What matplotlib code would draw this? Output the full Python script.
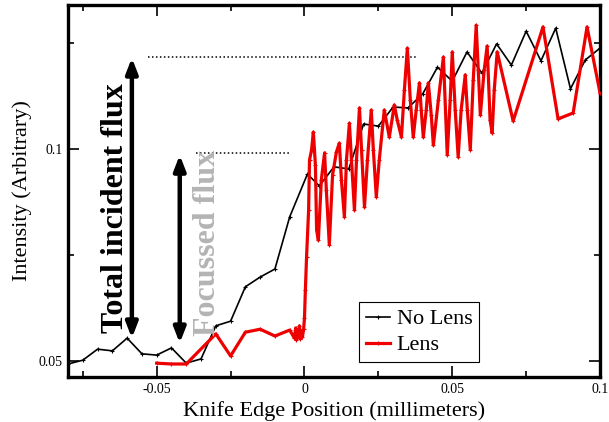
import matplotlib
matplotlib.use("Agg")
import matplotlib.pyplot as plt
from matplotlib.ticker import FixedLocator, NullFormatter

# ---- data ----
nolens_x = [-0.080, -0.075, -0.070, -0.065, -0.060, -0.055, -0.050, -0.045, -0.040,
            -0.035, -0.030, -0.025, -0.020, -0.015, -0.010, -0.005, 0.001, 0.005,
            0.010, 0.015, 0.020, 0.025, 0.030, 0.035, 0.040, 0.045, 0.050, 0.055,
            0.060, 0.065, 0.070, 0.075, 0.080, 0.085, 0.090, 0.095, 0.100]
nolens_y = [0.0493, 0.0502, 0.0528, 0.0524, 0.0554, 0.0517, 0.0514, 0.0531, 0.0495,
            0.0505, 0.0583, 0.0594, 0.0675, 0.0698, 0.0717, 0.0840, 0.0941, 0.0913,
            0.0958, 0.0953, 0.1059, 0.1054, 0.1099, 0.1097, 0.1130, 0.1193, 0.1160,
            0.1229, 0.1179, 0.1248, 0.1198, 0.1278, 0.1208, 0.1285, 0.1142, 0.1210,
            0.1238]

lens_x = [-0.050, -0.045, -0.040, -0.030, -0.025, -0.020, -0.015, -0.010, -0.005,
          -0.0034, -0.0030, -0.0027, -0.0024, -0.0020, -0.0017, -0.0014, -0.0010,
          -0.0007, -0.0003, 0.0000, 0.0003, 0.0007, 0.0014, 0.0017, 0.0024,
          0.0030, 0.0037, 0.0041, 0.0047, 0.0057, 0.0068, 0.0074, 0.0084, 0.0095,
          0.0108, 0.0118, 0.0125, 0.0135, 0.0142, 0.0152, 0.0159, 0.0169, 0.0176,
          0.0186, 0.0193, 0.0203, 0.0213, 0.0226, 0.0233, 0.0243, 0.0253, 0.0270,
          0.0287, 0.0304, 0.0314, 0.0328, 0.0338, 0.0348, 0.0358, 0.0368, 0.0378,
          0.0389, 0.0395, 0.0402, 0.0412, 0.0419, 0.0429, 0.0436, 0.0453, 0.0470,
          0.0483, 0.0493, 0.0500, 0.0510, 0.0520, 0.0530, 0.0544, 0.0551, 0.0561,
          0.0571, 0.0581, 0.0588, 0.0595, 0.0608, 0.0618, 0.0628, 0.0635, 0.0642,
          0.0652, 0.0706, 0.0807, 0.0858, 0.0909, 0.0956, 0.1000]
lens_y = [0.0495, 0.0493, 0.0493, 0.0564, 0.0512, 0.0568, 0.0575, 0.0559, 0.0573,
          0.0554, 0.0578, 0.0550, 0.0573, 0.0557, 0.0583, 0.0552, 0.0571,
          0.0557, 0.0575, 0.0601, 0.0667, 0.0745, 0.0856, 0.0974, 0.0998,
          0.1040, 0.0962, 0.0809, 0.0785, 0.0927, 0.0991, 0.0903, 0.0774, 0.0939,
          0.0993, 0.1014, 0.0927, 0.0840, 0.0974, 0.1061, 0.0974, 0.0856, 0.0974,
          0.1097, 0.0998, 0.0863, 0.0974, 0.1092, 0.0998, 0.0887, 0.0974, 0.1092,
          0.1028, 0.1104, 0.1068, 0.1028, 0.1139, 0.1238, 0.1116, 0.1028, 0.1092,
          0.1156, 0.1092, 0.1028, 0.1092, 0.1156, 0.1080, 0.1009, 0.1116, 0.1217,
          0.0986, 0.1116, 0.1229, 0.1092, 0.0981, 0.1092, 0.1175, 0.1092, 0.0998,
          0.1163, 0.1292, 0.1186, 0.1080, 0.1186, 0.1243, 0.1068, 0.1038, 0.1139,
          0.1229, 0.1066, 0.1288, 0.1071, 0.1085, 0.1288, 0.1132]

x_major = [-0.05, 0.0, 0.05, 0.1]
x_major_labels = ["-0.05", "0", "0.05", "0.1"]
x_minor = [-0.075, -0.025, 0.025, 0.075]
y_major = [0.05, 0.1]
y_major_labels = ["0.05", "0.1"]
y_minor = [0.075, 0.125]

series_labels = ["No Lens", "Lens"]
xlabel = "Knife Edge Position (millimeters)"
ylabel = "Intensity (Arbitrary)"
note_total = "Total incident flux"
note_focus = "Focussed flux"

# annotation geometry (data coordinates)
total_arrow = (-0.0584, 0.0554, 0.1215)
focus_arrow = (-0.0422, 0.0542, 0.0986)
total_level = (-0.053, 0.0382, 0.1217)
focus_level = (-0.0368, -0.0054, 0.0990)

plt.rcParams["font.family"] = ["Liberation Serif", "DejaVu Serif"]

fig = plt.figure(figsize=(6.09, 4.22), dpi=100)
ax = fig.add_axes([0.1117, 0.1066, 0.8736, 0.8815])

ax.plot(nolens_x, nolens_y, color="black", lw=1.2, marker="+", ms=3, mew=0.8,
        label=series_labels[0], zorder=3)
ax.plot(lens_x, lens_y, color="#ee0000", lw=2.3, marker="+", ms=3, mew=0.8,
        label=series_labels[1], zorder=4)

ax.set_xlim(-0.08, 0.1)
ax.set_ylim(0.04623, 0.13396)

ax.xaxis.set_major_locator(FixedLocator(x_major))
ax.set_xticklabels(x_major_labels)
ax.xaxis.set_minor_locator(FixedLocator(x_minor))
ax.xaxis.set_minor_formatter(NullFormatter())
ax.yaxis.set_major_locator(FixedLocator(y_major))
ax.set_yticklabels(y_major_labels)
ax.yaxis.set_minor_locator(FixedLocator(y_minor))
ax.yaxis.set_minor_formatter(NullFormatter())

ax.tick_params(which="both", direction="in", top=True, right=True, labelsize=10, width=1.2)
ax.tick_params(which="major", length=8, pad=4)
ax.tick_params(which="minor", length=4)
for s in ax.spines.values():
    s.set_linewidth(2.4)

ax.set_xlabel(xlabel, fontsize=16, labelpad=4)
ax.set_ylabel(ylabel, fontsize=16, labelpad=5)

# dotted reference levels
ax.plot([total_level[0], total_level[1]], [total_level[2]] * 2, color="black",
        lw=1.1, ls=(0, (1, 1.6)), zorder=2)
ax.plot([focus_level[0], focus_level[1]], [focus_level[2]] * 2, color="black",
        lw=1.1, ls=(0, (1, 1.6)), zorder=2)

# double-headed arrows
for xa, y0, y1 in (total_arrow, focus_arrow):
    ax.annotate("", xy=(xa, y1), xytext=(xa, y0),
                arrowprops=dict(arrowstyle="<|-|>,head_length=0.9,head_width=0.35",
                                lw=3.2, color="black", shrinkA=0, shrinkB=0),
                zorder=5)

ax.text(-0.0639, 0.0861, note_total, rotation=90, fontsize=23, fontweight="bold",
        ha="center", va="center", color="black", zorder=6)
ax.text(-0.0328, 0.0778, note_focus, rotation=90, fontsize=23, fontweight="bold",
        ha="center", va="center", color="#b4b4b4", zorder=6)

leg = ax.legend(loc="lower left", bbox_to_anchor=(0.547, 0.040), borderaxespad=0,
                fontsize=16, frameon=True, fancybox=False, handlelength=1.1,
                handletextpad=0.3, borderpad=0.3, labelspacing=0.25, framealpha=1)
leg.get_frame().set_edgecolor("black")
leg.get_frame().set_linewidth(0.8)

fig.savefig("out.png", dpi=100)
